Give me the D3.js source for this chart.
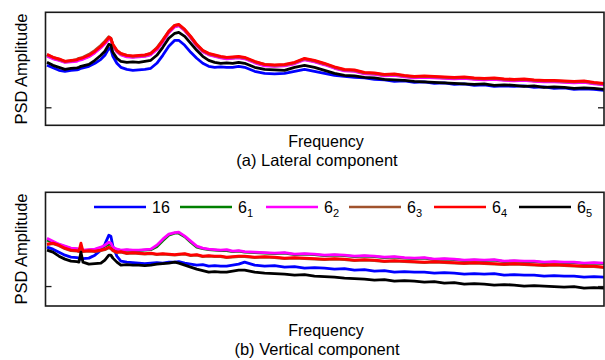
<!DOCTYPE html>
<html><head><meta charset="utf-8">
<script src="https://cdn.jsdelivr.net/npm/d3@7"></script>
<style>body{margin:0;background:#fff}svg{display:block}text{font-family:Arial,"Liberation Sans",sans-serif;fill:#000}</style>
</head><body><svg id="c" width="605" height="360"></svg>
<script>
// Frequency samples (arbitrary units)
const freq = [1,4,7,10,13,16,17,18,19,22,25,28,30,32,33,34,36,38,41,44,47,50,53,56,59,62,65,67,70,73,76,79,82,85,88,91,94,97,100,
105,110,115,120,125,130,135,140,145,150,155,160,165,170,175,180,185,190,195,200,205,210,215,220,225,230,235,240,245,250,255,260,265,270,275,280];

const seriesKeys = ["16","6_1","6_2","6_3","6_4","6_5"];
const legendMain = ["16","6","6","6","6","6"];
const legendSub = ["","1","2","3","4","5"];
const seriesColors = ["#0000ff","#008000","#ff00ff","#a0522d","#ff0000","#000000"];

// (a) Lateral component — PSD amplitude (arbitrary units)
const lateral16 = [60,57.5,55,54,55,55.5,56,57,57.5,59,62,66,70,77,76,69,62,58,56,55,55.5,56,57,62,70,79,85,85,80,73,67,62,59,58,58.5,58,58,59,58,
54,52,51.5,52,54,56,54,52,50,49,48,47.5,46,45.5,44,44.5,43,43.5,42,42.5,41,41.5,40,40.5,39,39.5,39,39.5,38,38.5,37,37.5,36,36.5,36,35];
const lateral6_1 = [70,67,65.5,63.5,64,65,66,66.5,67,69,73,78,82,87,86,80,74,71,69,68.5,69,69.5,71,76,84,93,99,100,95,88,80,74,71,69.5,68,67,67.5,68,67,
63,60,59.5,60,62,66,64,61,57.5,55,54.5,52,51.5,50,50.5,49,48,48.5,48,47.5,47,47.5,46.5,46,46.5,45.5,45,45.5,44.5,44,44,43.5,43,43.5,42,41];
const lateral6_2 = [69,66.5,65,63,63.5,64,65,65.5,66,68.5,72.5,77.5,81.5,86,85.5,79,73.5,70.5,68.5,68,68.5,69,70.5,75.5,83.5,92.5,98.5,99.5,94.5,87.5,79.5,73.5,70.5,69,67.5,66.5,67,67.5,66.5,
62.5,59.5,59,59.5,61.5,65.5,63.5,60.5,57,54.5,54,51.5,51,49.5,50,48.5,47.5,48,47.5,47,46.5,47,46,45.5,46,45,44.5,45,44,43.5,43.5,43,42.5,43,41.5,40.5];
const lateral6_3 = [70.5,68,66,64,64.5,66,67,67.5,68,71,75,80,84,88.5,87,80.5,74.5,71.5,70,69,69.5,70,72,77.5,85.5,94,100,100.5,95.5,88.5,80.5,74.5,71.5,70,68.5,68,68,68.5,67.5,
63.5,61,60,60.5,62.5,66.5,64.5,61.5,58,55.5,55,52.5,52,50.5,51,49.5,48.5,49,48.5,48,47.5,48,47,46.5,47,46,45.5,46,45,44.5,44.5,44,43.5,44,42.5,41.5];
const lateral6_4 = [71,68,66.5,64,65,65.5,66.5,67,67.5,70,74,79,83,88,87,81,75,72,70,69.5,70,70.5,72,77,85,94,100,101,96,89,81,75,72,70.5,69,68,68.5,69,68,
64,61,60.5,61,63,67,65,62,58.5,56,55.5,53,52.5,51,51.5,50,49,49.5,49,48.5,48,48.5,47.5,47,47.5,46.5,46,46.5,45.5,45,45,44.5,44,44.5,43,42];
const lateral6_5 = [63,60,58,56,57,57.5,58,59,59.5,61,65,70,74,81,80,73,67,64,63,63.5,63,64,65,70,78,87,92,93,89,82,75,69,65,63,62,62.5,62,63,62,
58,56,55.5,55,58,60,58,55,52,50,49.5,48,47.5,46,45.5,45,44,43.5,43,42.5,42,41.5,41,41.5,40,40.5,40,39,39.5,38,38.5,38,37,37.5,37,36];

// (b) Vertical component — PSD amplitude (arbitrary units)
const vertical16 = [59,57,54,51,49,48.5,48,47,47.5,48,51,56,62,71,70,60,50,45,44,43.5,43,42.5,43,43.5,43,44,44,44.5,43,42,41,41.5,40,40.5,40,40,41,42,44,
41,40,40.5,39,39.5,38,38.5,38,37,37.5,36,36.5,35,35.5,34,34.5,34,34,33,33.5,33,32,32.5,32,32.5,31,31.5,31,31,30,30.5,30,30,29,29.5,29];
const vertical6_1 = [66,64,61.5,59.5,57.5,57,56.5,56.5,55.5,56,56.5,58,60,62,61.5,58,56.5,55.5,56,55.5,55.5,56,56.5,59.5,65.5,71,73,73,69.5,64,59,57.5,56.5,56,55.5,55.5,54.5,55,54,
53.5,53,52.5,53,51.5,52,51.5,50.5,51,50.5,49.5,50,49.5,48.5,49,48,47.5,48,46.5,47,46.5,45.5,46,45.5,46,44.5,45,44.5,44.5,43.5,44,43.5,43.5,42.5,43,42.5];
const vertical6_2 = [68,65,62,60,58,57.5,57,57,56,56.5,57,59,61,64,63,59,57,56,56.5,56,56,56.5,57,61,67,72,73.5,74,70,65,60,58,57,56.5,56,56.5,55,55.5,54.5,
54,53.5,53,53.5,52,52.5,52,51,51.5,51,50,50.5,50,49,49.5,48.5,48,48.5,47,47.5,47,46,46.5,46,46.5,45,45.5,45,45,44,44.5,44,44,43,43.5,43];
const vertical6_3 = [61.5,62.5,60.5,57.5,55.5,55,54.5,60,54.5,55,54.5,55.5,56.5,58.5,57.5,55.5,53.5,54,52.5,53,52.5,52,52.5,51.5,52,51.5,51,51.5,52,50.5,51,49.5,50,49.5,49.5,48.5,49,49.5,49.5,
48.5,49,48.5,47.5,48,47.5,47,46.5,47,46.5,45.5,46,45.5,44.5,45,44.5,44,43.5,44,43.5,43,42.5,43,42.5,42,41.5,42,41.5,41,40.5,41,40.5,40,39.5,39.5,38.5];
const vertical6_4 = [62,63,61,58,56,55.5,55,63,55,55.5,55,56,57,59,58,56,54,54.5,53,53.5,53,52.5,53,52,52.5,52,51.5,52,52.5,51,51.5,50,50.5,50,50,49,49.5,50,50,
49,49.5,49,48,48.5,48,47.5,47,47.5,47,46,46.5,46,45,45.5,45,44.5,44,44.5,44,43.5,43,43.5,43,42.5,42,42.5,42,41.5,41,41.5,41,40.5,40,40,39];
const vertical6_5 = [56,54,50,47,45,44.5,44,54,44,42,42.5,43,46,51,51,48,44,41,41.5,41,41,40.5,41,42,42.5,43,44,43,41,39,37,35.5,34,34.5,34,34,35,36,36,
34,33,32.5,32,31,31.5,30,29.5,29,28,27.5,27,26,26.5,25,25.5,25,24,24.5,23,23.5,22,22.5,22,21,21.5,21,20,20.5,20,19.5,19,19.5,18,18.5,18];

const lateralSeries = [lateral16, lateral6_1, lateral6_2, lateral6_3, lateral6_4, lateral6_5];
const verticalSeries = [vertical16, vertical6_1, vertical6_2, vertical6_3, vertical6_4, vertical6_5];
const freqDomain = [0, 280];
const lateralDomain = [0, 113];
const verticalDomain = [0, 114];
const lateralTicks = [18];
const verticalTicks = [20];

const svg = d3.select("#c");
const x = d3.scaleLinear().domain(freqDomain).range([45, 604]);

function panel(top, bottom, yDomain, ticks, seriesList, caption, capY, freqY, labelY) {
  const y = d3.scaleLinear().domain(yDomain).range([bottom, top]);
  const g = svg.append("g");
  const line = d3.line().x((d, i) => x(freq[i])).y(d => y(d));
  seriesList.forEach((s, k) => {
    g.append("path").datum(s).attr("d", line)
      .attr("fill", "none").attr("stroke", seriesColors[k])
      .attr("stroke-width", 2.8).attr("stroke-linejoin", "round");
  });
  // frame
  g.append("rect").attr("x", 45.5).attr("y", top).attr("width", 604 - 45.5).attr("height", bottom - top)
    .attr("fill", "none").attr("stroke", "#1a1a1a").attr("stroke-width", 1.6);
  // inward ticks, both sides
  const yl = d3.axisLeft(y).tickValues(ticks).tickSize(-6).tickFormat("");
  const ya = g.append("g").attr("transform", "translate(45.5,0)").call(yl);
  ya.select(".domain").remove();
  ya.selectAll("line").attr("stroke", "#1a1a1a").attr("stroke-width", 1.3);
  const yr = d3.axisRight(y).tickValues(ticks).tickSize(-6).tickFormat("");
  const yb = g.append("g").attr("transform", "translate(604,0)").call(yr);
  yb.select(".domain").remove();
  yb.selectAll("line").attr("stroke", "#1a1a1a").attr("stroke-width", 1.3);

  svg.append("text").attr("x", 326).attr("y", freqY).attr("text-anchor", "middle")
    .style("font-size", "16px").text("Frequency");
  svg.append("text").attr("x", 317).attr("y", capY).attr("text-anchor", "middle")
    .style("font-size", "16.5px").text(caption);
  svg.append("text").attr("transform", `translate(27,${labelY}) rotate(-90)`).attr("text-anchor", "middle")
    .style("font-size", "16.5px").text("PSD Amplitude");
}

panel(12.3, 125.3, lateralDomain, lateralTicks, lateralSeries, "(a) Lateral component", 165.5, 147, 69);
panel(192.3, 306, verticalDomain, verticalTicks, verticalSeries, "(b) Vertical component", 355, 336, 249);

// legend
const legStart = [94, 180, 266, 349, 434, 519];
const lg = svg.append("g");
seriesKeys.forEach((key, k) => {
  lg.append("line").attr("x1", legStart[k]).attr("x2", legStart[k] + 52)
    .attr("y1", 207).attr("y2", 207).attr("stroke", seriesColors[k]).attr("stroke-width", 2.6);
  const t = lg.append("text").attr("x", legStart[k] + 58).attr("y", 213).style("font-size", "16px");
  t.append("tspan").text(legendMain[k]);
  if (legendSub[k]) t.append("tspan").attr("dy", 4).style("font-size", "11px").text(legendSub[k]);
});
</script></body></html>
